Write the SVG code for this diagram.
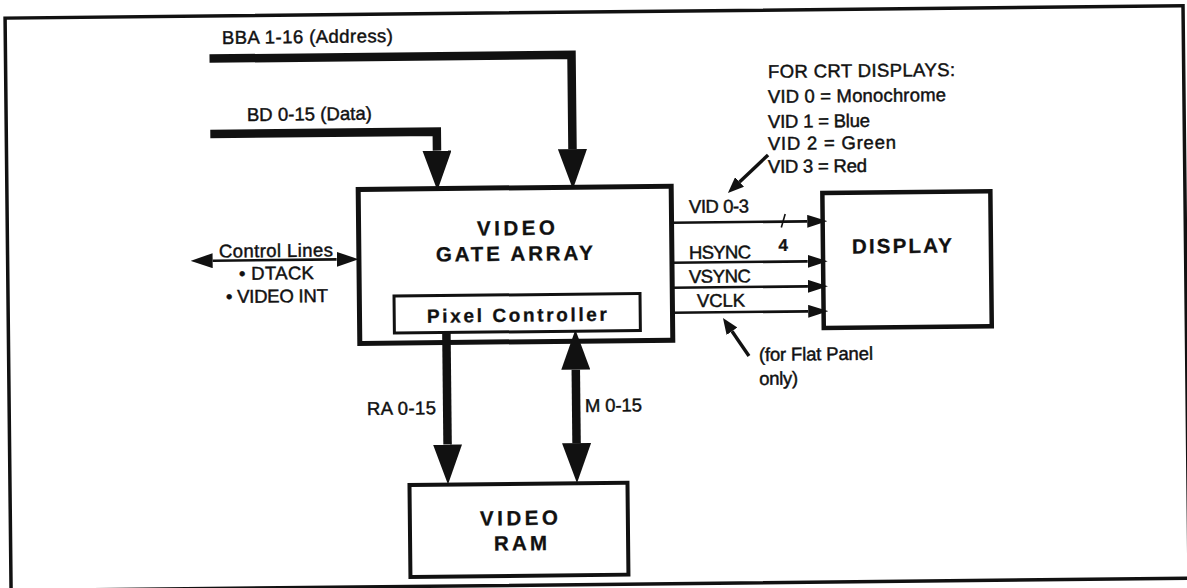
<svg xmlns="http://www.w3.org/2000/svg" width="1187" height="588" viewBox="0 0 1187 588">
<style>
.lbl{font-family:"Liberation Sans",Arial,Helvetica,sans-serif;font-size:18.5px;fill:#111;stroke:#111;stroke-width:0.45}
.hd{font-family:"Liberation Sans",Arial,Helvetica,sans-serif;font-size:20.5px;font-weight:bold;fill:#111;stroke:#111;stroke-width:0.3}
.hs{font-size:19px}
.box{fill:#fff;stroke:#111}
.bus{fill:none;stroke:#111;stroke-width:8.5;stroke-linejoin:miter}
.sig{fill:none;stroke:#111;stroke-width:2.6}
.ptr{fill:none;stroke:#111;stroke-width:3.4}
</style>
<defs>
<marker id="busHead" markerUnits="userSpaceOnUse" viewBox="0 0 40 29" markerWidth="40" markerHeight="29" refX="0" refY="14.5" orient="auto-start-reverse"><path d="M0,0 L40,14.5 L0,29 Z" fill="#111"/></marker>
<marker id="sigHead" markerUnits="userSpaceOnUse" viewBox="0 0 20 13" markerWidth="20" markerHeight="13" refX="0" refY="6.5" orient="auto-start-reverse"><path d="M0,0 L20,6.5 L0,13 Z" fill="#111"/></marker>
<marker id="ctlHead" markerUnits="userSpaceOnUse" viewBox="0 0 22 15" markerWidth="22" markerHeight="15" refX="0" refY="7.5" orient="auto-start-reverse"><path d="M0,0 L22,7.5 L0,15 Z" fill="#111"/></marker>
<marker id="ptrHead" markerUnits="userSpaceOnUse" viewBox="0 0 16 13" markerWidth="16" markerHeight="13" refX="0" refY="6.5" orient="auto"><path d="M0,0 L16,6.5 L0,13 Z" fill="#111"/></marker>
</defs>
<rect x="0" y="0" width="1187" height="588" fill="#fff"/>
<g transform="rotate(-0.6 593 294)">
<g id="frame"><rect x="8" y="12" width="1178" height="572.5" fill="none" stroke="#111" stroke-width="3.5"/></g>

<g id="gate-array">
<rect class="box" x="359.3" y="187" width="313" height="154" stroke-width="5"/>
<text class="hd" x="477.6" y="234.3" textLength="78">VIDEO</text>
<text class="hd" x="436.3" y="259.9" textLength="157">GATE ARRAY</text>
</g>
<g id="pixel-controller">
<rect class="box" x="394" y="294" width="246" height="37" stroke-width="3"/>
<text class="hd hs" x="426.7" y="320.9" textLength="180">Pixel Controller</text>
</g>
<g id="display">
<rect class="box" x="823.4" y="195.5" width="168" height="135" stroke-width="4.5"/>
<text class="hd" x="852.4" y="256.2" textLength="100">DISPLAY</text>
</g>
<g id="video-ram">
<rect class="box" x="407.5" y="483" width="218" height="92" stroke-width="4"/>
<text class="hd" x="477.6" y="524.3" textLength="78">VIDEO</text>
<text class="hd" x="491.3" y="549.5" textLength="53">RAM</text>
</g>

<g id="connectors">
<path class="bus" d="M212,54.6 H574 V149" marker-end="url(#busHead)"/>
<path class="bus" d="M212,130 H438.5 V149" marker-end="url(#busHead)"/>
<path class="bus" d="M446,331 V443" marker-end="url(#busHead)"/>
<path class="bus" d="M575,369.5 V443" marker-start="url(#busHead)" marker-end="url(#busHead)"/>
<path class="sig" d="M213,256.7 H337" marker-start="url(#ctlHead)" marker-end="url(#ctlHead)"/>
<path class="sig" d="M672,223.6 H808" marker-end="url(#sigHead)"/>
<path class="sig" d="M672,263.6 H808" marker-end="url(#sigHead)"/>
<path class="sig" d="M672,288.6 H808" marker-end="url(#sigHead)"/>
<path class="sig" d="M672,313.6 H808" marker-end="url(#sigHead)"/>
<path d="M782,229.5 L786,216" stroke="#111" stroke-width="1.6" fill="none"/>
<path class="ptr" d="M769.5,156.8 L740.7,183.5" marker-end="url(#ptrHead)"/>
<path class="ptr" d="M748.3,357.6 L731.6,332.7" marker-end="url(#ptrHead)"/>
</g>

<g id="labels">
<text class="lbl" x="224.6" y="40.1" textLength="171">BBA 1-16 (Address)</text>
<text class="lbl" x="248.8" y="117.4" textLength="125">BD 0-15 (Data)</text>
<text class="lbl" x="219.4" y="253.7" textLength="114">Control Lines</text>
<text class="lbl" x="239.1" y="276.2" textLength="75">• DTACK</text>
<text class="lbl" x="225.9" y="299.1" textLength="102">• VIDEO INT</text>
<text class="lbl" x="770.3" y="79.8" textLength="187">FOR CRT DISPLAYS:</text>
<text class="lbl" x="770" y="104.8" textLength="178">VID 0 = Monochrome</text>
<text class="lbl" x="769.8" y="129.8" textLength="102">VID 1 = Blue</text>
<text class="lbl" x="769.5" y="151.8" textLength="128">VID 2 = Green</text>
<text class="lbl" x="769.3" y="174.8" textLength="99">VID 3 = Red</text>
<text class="lbl" x="689.9" y="214" textLength="60">VID 0-3</text>
<text class="lbl" x="689.4" y="260" textLength="62">HSYNC</text>
<text class="lbl" x="689.1" y="284" textLength="62">VSYNC</text>
<text class="lbl" x="696.9" y="308.1" textLength="48">VCLK</text>
<text class="hd" x="779" y="253" style="font-size:17px">4</text>
<text class="lbl" x="758.3" y="362.7" textLength="114">(for Flat Panel</text>
<text class="lbl" x="758.3" y="386.7" textLength="39">only)</text>
<text class="lbl" x="365.7" y="412.6" textLength="69">RA 0-15</text>
<text class="lbl" x="583.8" y="411.9" textLength="57">M 0-15</text>
</g>
</g>
</svg>
